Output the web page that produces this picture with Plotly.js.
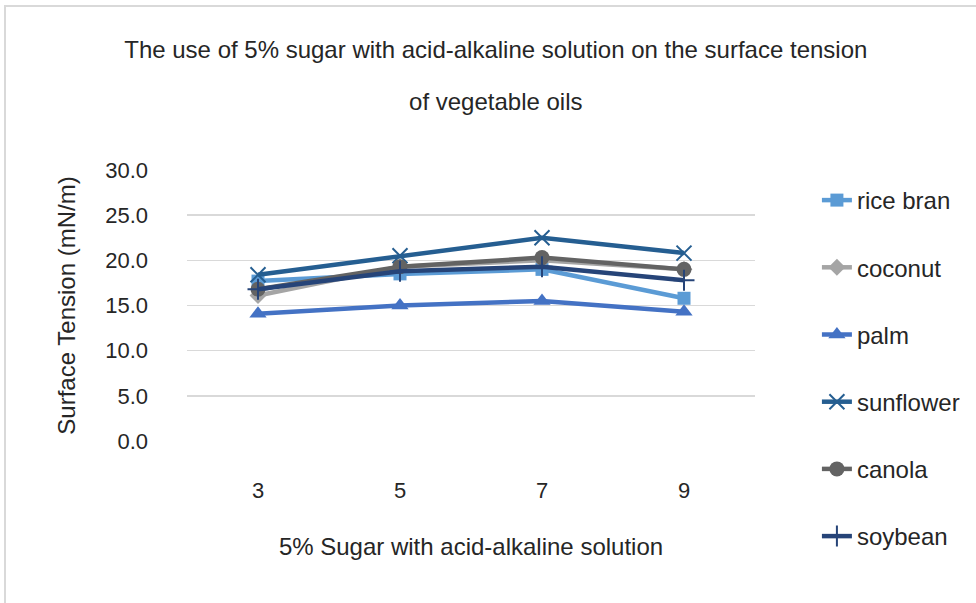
<!DOCTYPE html>
<html>
<head>
<meta charset="utf-8">
<script src="https://cdn.plot.ly/plotly-3.0.1.min.js"></script>
<style>
html,body{margin:0;padding:0;background:#fff;}
#frame{position:absolute;left:4px;top:5px;width:980px;height:610px;border-left:2px solid #d9d9d9;border-top:2px solid #d9d9d9;}
#chart{position:absolute;left:0;top:0;width:976px;height:603px;}
</style>
</head>
<body>
<div id="frame"></div>
<div id="chart"></div>
<script>
const categories = ["3", "5", "7", "9"];
const riceBran  = [17.7, 18.5, 19.0, 15.8];
const coconut   = [16.1, 19.3, 20.0, 19.0];
const palm      = [14.1, 15.0, 15.5, 14.3];
const sunflower = [18.4, 20.5, 22.5, 20.8];
const canola    = [16.8, 19.3, 20.3, 19.0];
const soybean   = [16.8, 18.8, 19.3, 17.8];

const seriesNames = ["rice bran", "coconut", "palm", "sunflower", "canola", "soybean"];
const seriesData = [riceBran, coconut, palm, sunflower, canola, soybean];
const colors = ["#5B9BD5", "#A5A5A5", "#4472C4", "#255E91", "#636363", "#264478"];
const symbols = ["square", "diamond", "triangle-up", "x-thin", "circle", "cross-thin"];
const sizes = [13, 13, 15, 15, 15, 15];

const FONT = "Liberation Sans, Arial, sans-serif";
const TXT = "#262626";

const traces = seriesNames.map((n, i) => {
  const thin = symbols[i].endsWith("-thin");
  return {
    type: "scatter",
    mode: "lines+markers",
    name: n,
    x: categories,
    y: seriesData[i],
    legendgroup: "g" + i,
    line: {color: colors[i], width: 4.5},
    marker: {
      symbol: symbols[i],
      size: sizes[i],
      color: colors[i],
      line: thin ? {color: colors[i], width: 2} : {width: 0}
    }
  };
});

const layout = {
  width: 976, height: 603,
  paper_bgcolor: "rgba(0,0,0,0)",
  plot_bgcolor: "rgba(0,0,0,0)",
  margin: {l: 187, r: 221, t: 170, b: 162},
  font: {family: FONT, size: 24, color: TXT},
  title: {
    text: "<span style='font-size:24px'>The use of 5% sugar with acid-alkaline solution on the surface tension</span><br><br><span style='font-size:24px'>of vegetable oils</span>",
    font: {family: FONT, size: 20, color: TXT},
    x: 0.508, xanchor: "center",
    y: 0.904, yanchor: "top"
  },
  xaxis: {
    type: "category",
    range: [-0.5, 3.5],
    showgrid: false, zeroline: false, showline: false,
    ticks: "",
    ticklabelstandoff: 34,
    tickfont: {family: FONT, size: 22, color: TXT},
    title: {text: "5% Sugar with acid-alkaline solution", font: {family: FONT, size: 24, color: TXT}, standoff: 36}
  },
  yaxis: {
    range: [0, 30],
    tickvals: [0, 5, 10, 15, 20, 25, 30],
    tickformat: ".1f",
    showgrid: true, gridcolor: "#d9d9d9", gridwidth: 1.5,
    zeroline: false, showline: false,
    ticks: "",
    ticklabelstandoff: 38,
    tickfont: {family: FONT, size: 22, color: TXT},
    title: {text: "Surface Tension (mN/m)", font: {family: FONT, size: 24, color: TXT}, standoff: 22}
  },
  legend: {
    xref: "container", yref: "container",
    x: 0.837, xanchor: "left",
    y: 1 - 178 / 603, yanchor: "top",
    traceorder: "grouped",
    tracegroupgap: 33,
    maxheight: 2000,
    font: {family: FONT, size: 24, color: TXT},
    bgcolor: "rgba(0,0,0,0)"
  },
  showlegend: true
};

Plotly.newPlot("chart", traces, layout, {displayModeBar: false, staticPlot: true});
</script>
</body>
</html>
